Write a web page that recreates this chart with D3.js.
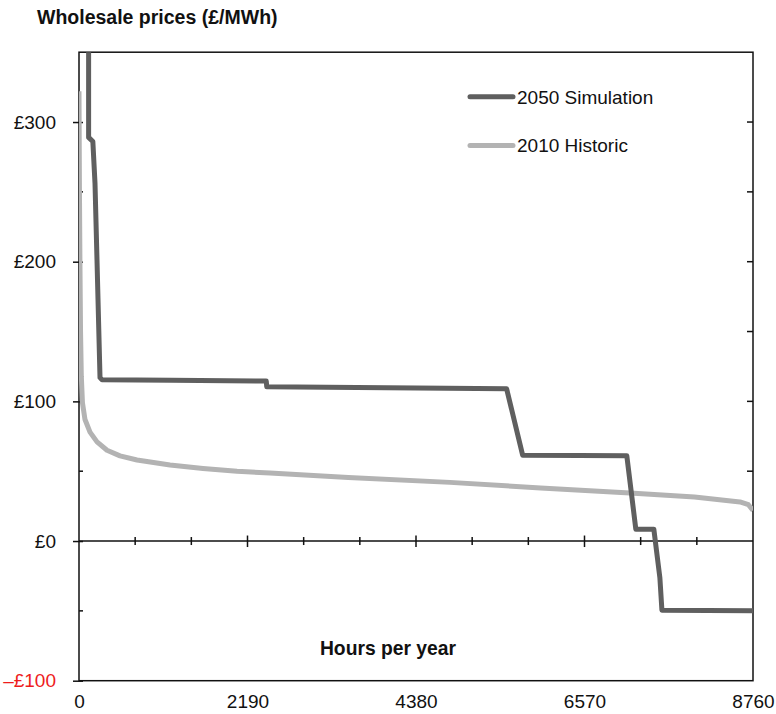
<!DOCTYPE html>
<html>
<head>
<meta charset="utf-8">
<script src="https://cdn.jsdelivr.net/npm/d3@7/dist/d3.min.js"></script>
<style>
  html, body { margin: 0; padding: 0; background: #fff; }
  svg { display: block; font-family: "Liberation Sans", Arial, sans-serif; }
</style>
</head>
<body>
<svg id="chart" width="776" height="714"></svg>
<script>
// ---- Data ----
const seriesNames = ["2050 Simulation", "2010 Historic"];
const seriesColors = ["#5f5f5f", "#b3b3b3"];

// hours of the year (sorted, duration curve) and price £/MWh
const sim2050Hours  = [0, 125, 125, 180, 208, 234, 273, 299, 1200, 2434, 2440, 4000, 5558, 5766, 6500, 7120, 7237, 7471, 7550, 7576, 8760];
const sim2050Prices = [420, 420, 289, 286, 256, 201, 117, 115.5, 115.2, 114.5, 110.5, 109.8, 109, 61.5, 61.3, 61, 8.5, 8.5, -26.5, -49.5, -50];

const hist2010Hours  = [0, 6, 12, 20, 30, 45, 78, 143, 234, 364, 533, 754, 1183, 1612, 2054, 2482, 3500, 4822, 6000, 7161, 8000, 8591, 8700, 8760];
const hist2010Prices = [322, 250, 200, 150, 118, 99, 87, 78, 71, 65, 61, 58, 54.4, 52, 50, 48.7, 45.5, 42, 38, 34.4, 31.5, 28, 26, 22];

const xTickLabels = [0, 2190, 4380, 6570, 8760];
const xMinorTicks = [730, 1460, 2190, 2920, 3650, 4380, 5110, 5840, 6570, 7300, 8030];
const xMajorTicks = [2190, 4380, 6570];
const yTickLabels = [-100, 0, 100, 200, 300];
const yMinorTicks = [-50, 50, 150, 250];
const yRightTicks = [-50, 50, 100, 150, 200, 250, 300];

const titleText = "Wholesale prices (£/MWh)";
const xTitle = "Hours per year";

// ---- Layout ----
const svg = d3.select("#chart");
const L = 79, R = 753, T = 52.2, B = 680.7;

const x = d3.scaleLinear().domain([0, 8760]).range([L, R]);
const y = d3.scaleLinear().domain([-100, 350]).range([B, T]);

const ink = "#111";

// clip
svg.append("defs").append("clipPath").attr("id", "plotclip")
  .append("rect").attr("x", L).attr("y", T).attr("width", R - L).attr("height", B - T);

// frame
svg.append("rect").attr("x", L).attr("y", T).attr("width", R - L).attr("height", B - T)
  .attr("fill", "none").attr("stroke", ink).attr("stroke-width", 1.5);

// zero line
svg.append("line").attr("x1", L).attr("x2", R).attr("y1", y(0)).attr("y2", y(0))
  .attr("stroke", ink).attr("stroke-width", 1.5);

// ticks on zero line
svg.append("g").selectAll("line").data(xMinorTicks).join("line")
  .attr("x1", d => x(d)).attr("x2", d => x(d))
  .attr("y1", d => y(0) - (xMajorTicks.includes(d) ? 5.5 : 4))
  .attr("y2", d => y(0) + (xMajorTicks.includes(d) ? 6 : 4))
  .attr("stroke", ink).attr("stroke-width", 1.5);

// left axis with labels
const yAxis = d3.axisLeft(y).tickValues(yTickLabels)
  .tickFormat(d => d < 0 ? "\u2013£" + Math.abs(d) : "£" + d)
  .tickSize(6).tickPadding(17);
const gy = svg.append("g").attr("transform", `translate(${L},0)`).call(yAxis);
gy.select(".domain").remove();
gy.selectAll(".tick line").attr("x1", 4).attr("stroke", ink).attr("stroke-width", 1.5);
gy.selectAll(".tick text")
  .attr("font-size", 19).attr("font-family", "Liberation Sans, Arial, sans-serif")
  .attr("fill", d => d < 0 ? "#ee1c1c" : ink);

// left minor ticks
svg.append("g").selectAll("line").data(yMinorTicks).join("line")
  .attr("x1", L).attr("x2", L + 4).attr("y1", d => y(d)).attr("y2", d => y(d))
  .attr("stroke", ink).attr("stroke-width", 1.5);

// right inward ticks
svg.append("g").selectAll("line").data(yRightTicks).join("line")
  .attr("x1", R - 6).attr("x2", R).attr("y1", d => y(d)).attr("y2", d => y(d))
  .attr("stroke", ink).attr("stroke-width", 1.5);

// bottom labels
const xAxis = d3.axisBottom(x).tickValues(xTickLabels).tickSize(0).tickPadding(14)
  .tickFormat(d => String(d));
const gx = svg.append("g").attr("transform", `translate(0,${B})`).call(xAxis);
gx.select(".domain").remove();
gx.selectAll(".tick text").attr("font-size", 19)
  .attr("font-family", "Liberation Sans, Arial, sans-serif").attr("fill", ink);

// lines
const line = d3.line().x(d => x(d[0])).y(d => y(d[1]));
const plot = svg.append("g").attr("clip-path", "url(#plotclip)");
const series = [
  d3.zip(hist2010Hours, hist2010Prices),
  d3.zip(sim2050Hours, sim2050Prices)
];
const colorsDrawOrder = [seriesColors[1], seriesColors[0]];
plot.selectAll("path.series").data(series).join("path")
  .attr("class", "series")
  .attr("d", line)
  .attr("fill", "none")
  .attr("stroke", (d, i) => colorsDrawOrder[i])
  .attr("stroke-width", 5)
  .attr("stroke-linejoin", "round");

// legend
const legendY = [96.8, 145.5];
const lg = svg.append("g");
seriesNames.forEach((name, i) => {
  lg.append("line").attr("x1", 470).attr("x2", 513)
    .attr("y1", legendY[i]).attr("y2", legendY[i])
    .attr("stroke", seriesColors[i]).attr("stroke-width", 5).attr("stroke-linecap", "round");
  lg.append("text").attr("x", 517).attr("y", legendY[i] + 6.8)
    .attr("font-size", 19).attr("fill", ink).text(name);
});

// titles
svg.append("text").attr("x", 37).attr("y", 24).attr("font-size", 19.5)
  .attr("font-weight", "bold").attr("fill", ink).text(titleText);
svg.append("text").attr("x", 388).attr("y", 655).attr("text-anchor", "middle")
  .attr("font-size", 19.3).attr("font-weight", "bold").attr("fill", ink).text(xTitle);
</script>
</body>
</html>
